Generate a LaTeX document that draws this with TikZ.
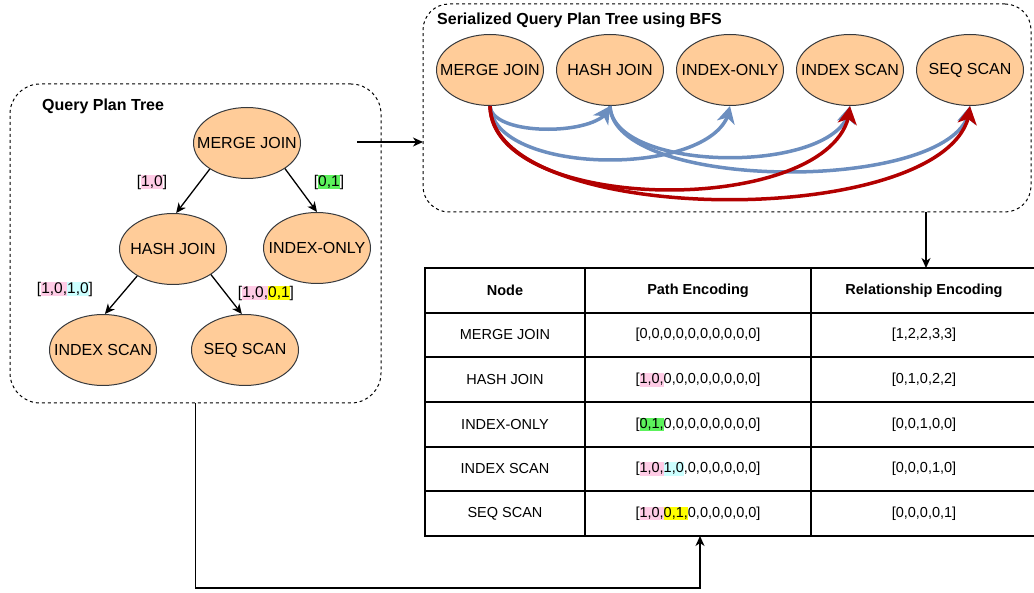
\documentclass[tikz,border=0pt]{standalone}
\usepackage{fontspec}
\setmainfont{Liberation Sans}
\usetikzlibrary{arrows.meta,shapes.geometric,bending}
\definecolor{nodefill}{HTML}{FFCC99}
\definecolor{nodestroke}{HTML}{36393D}
\definecolor{edgeblue}{HTML}{6C8EBF}
\definecolor{edgered}{HTML}{B20000}
\definecolor{hpink}{HTML}{FFCCE6}
\definecolor{hcyan}{HTML}{CCFFFF}
\definecolor{hgreen}{HTML}{5CF25C}
\definecolor{hyellow}{HTML}{FFFF00}
\newcommand{\hlt}[2]{\begingroup\setlength{\fboxsep}{0pt}\colorbox{#1}{\vphantom{[}#2}\endgroup}
\newcommand{\ctr}[1]{\makebox[0pt]{#1}}
\begin{document}
\begin{tikzpicture}[x=1pt,y=1pt,
  ell/.style={ellipse, draw=nodestroke, fill=nodefill, line width=1pt, minimum width=107pt, minimum height=71pt, inner sep=0pt, font=\fontsize{16}{19}\selectfont},
  dbox/.style={draw, dash pattern=on 3pt off 3pt, line width=1pt, inner sep=0pt, outer sep=0pt},
  ttl/.style={font=\fontsize{16}{19}\selectfont\bfseries, anchor=west, inner sep=0pt},
  lbl/.style={font=\fontsize{15.5}{18}\selectfont, inner sep=0pt},
  cell/.style={font=\fontsize{14.5}{17}\selectfont, inner sep=0pt},
  hcell/.style={font=\fontsize{14.5}{17}\selectfont\bfseries, inner sep=0pt},
  arr/.style={-{Stealth[length=10pt,width=9pt,inset=3pt]}, line width=1.3pt},
  blu/.style={draw=edgeblue, line width=3.5pt, -{Stealth[length=17pt,width=18pt,inset=5pt]}},
  rd/.style={draw=edgered, line width=3.5pt, -{Stealth[length=18pt,width=19pt,inset=5pt]}},
  grid/.style={line width=1.5pt}]
\useasboundingbox (0,0) rectangle (1034,-593);

% ---------- left box: query plan tree ----------
\node[dbox, rounded corners=30pt, minimum width=371pt, minimum height=319pt] (qpt) at (195.5,-243.5) {};
\node[ttl] (qptt) at (42,-106) {Query Plan Tree};

\node[ell] (mj) at (247,-143) {\ctr{MERGE JOIN}};
\node[ell] (hj) at (173,-249) {\ctr{HASH JOIN}};
\node[ell] (io) at (317,-248) {\ctr{INDEX-ONLY}};
\node[ell] (is) at (103,-350) {\ctr{INDEX SCAN}};
\node[ell] (ss) at (245,-350) {\ctr{SEQ SCAN}};

\draw[arr] (mj.215) -- (hj.85);
\draw[arr] (mj.326) -- (io.90);
\draw[arr] (hj.217) -- (is.87);
\draw[arr] (hj.326) -- (ss.95);

\node[lbl] (l1) at (152,-182) {[\hlt{hpink}{1,0}]};
\node[lbl] (l2) at (329,-182) {[\hlt{hgreen}{0,1}]};
\node[lbl] (l3) at (65,-289) {[\hlt{hpink}{1,0,}\hlt{hcyan}{1,0}]};
\node[lbl] (l4) at (266,-293) {[\hlt{hpink}{1,0,}\hlt{hyellow}{0,1}]};

% ---------- right box: serialized tree ----------
\node[dbox, rounded corners=26pt, minimum width=608pt, minimum height=208pt] (ser) at (727,-108) {};
\node[ttl] (sert) at (437,-20) {Serialized Query Plan Tree using BFS};

\node[ell] (s1) at (490,-70) {\ctr{MERGE JOIN}};
\node[ell] (s2) at (610,-70) {\ctr{HASH JOIN}};
\node[ell] (s3) at (730,-70) {\ctr{INDEX-ONLY}};
\node[ell] (s4) at (850,-70) {\ctr{INDEX SCAN}};
\node[ell] (s5) at (970,-70) {\ctr{SEQ SCAN}};

\draw[blu] (s1.south) .. controls +(2,-32) and +(-4,-30) .. (s2.south);
\draw[blu] (s1.south) .. controls +(5,-72) and +(-5,-72) .. (s3.south);
\draw[blu] (s2.south) .. controls +(3,-69) and +(-3,-69) .. (s4.south);
\draw[blu] (s2.south) .. controls +(3,-88) and +(-3,-88) .. (s5.south);
\draw[rd] (s1.south) .. controls +(2,-112) and +(-3,-112) .. (s4.south);
\draw[rd] (s1.south) .. controls +(2,-125) and +(-3,-125) .. (s5.south);

% ---------- connectors between parts ----------
\coordinate (cs) at (357,-142);
\draw[arr] (cs) -- (ser.west |- cs);

% ---------- table ----------
\node[draw, grid, inner sep=0pt, outer sep=0pt, minimum width=612pt, minimum height=268pt] (tbl) at (731,-402) {};
\draw[grid] (585,-268) -- (585,-536);
\draw[grid] (811,-268) -- (811,-536);
\foreach \yy in {313,357,402,447,491} \draw[grid] (425,-\yy) -- (1037,-\yy);

\node[hcell] (h1) at (505,-290.5) {Node};
\node[hcell] (h2) at (698,-290.5) {Path Encoding};
\node[hcell] (h3) at (924,-290.5) {Relationship Encoding};

\node[cell] (n1) at (505,-335) {MERGE JOIN};
\node[cell] (p1) at (698,-335) {[0,0,0,0,0,0,0,0,0,0]};
\node[cell] (r1) at (924,-335) {[1,2,2,3,3]};

\node[cell] (n2) at (505,-380) {HASH JOIN};
\node[cell] (p2) at (698,-380) {[\hlt{hpink}{1,0,}0,0,0,0,0,0,0,0]};
\node[cell] (r2) at (924,-380) {[0,1,0,2,2]};

\node[cell] (n3) at (505,-424.5) {INDEX-ONLY};
\node[cell] (p3) at (698,-424.5) {[\hlt{hgreen}{0,1,}0,0,0,0,0,0,0,0]};
\node[cell] (r3) at (924,-424.5) {[0,0,1,0,0]};

\node[cell] (n4) at (505,-469) {INDEX SCAN};
\node[cell] (p4) at (698,-469) {[\hlt{hpink}{1,0,}\hlt{hcyan}{1,0}{,}0,0,0,0,0,0]};
\node[cell] (r4) at (924,-469) {[0,0,0,1,0]};

\node[cell] (n5) at (505,-513.5) {SEQ SCAN};
\node[cell] (p5) at (698,-513.5) {[\hlt{hpink}{1,0,}\hlt{hyellow}{0,1,}0,0,0,0,0,0]};
\node[cell] (r5) at (924,-513.5) {[0,0,0,0,1]};

\coordinate (ca) at (926,-240);
\draw[arr] (ser.south -| ca) -- (tbl.north -| ca);

\coordinate (cb) at (700,-588);
\draw[arr] (qpt.south) |- (cb) -- (tbl.south -| cb);
\end{tikzpicture}
\end{document}
